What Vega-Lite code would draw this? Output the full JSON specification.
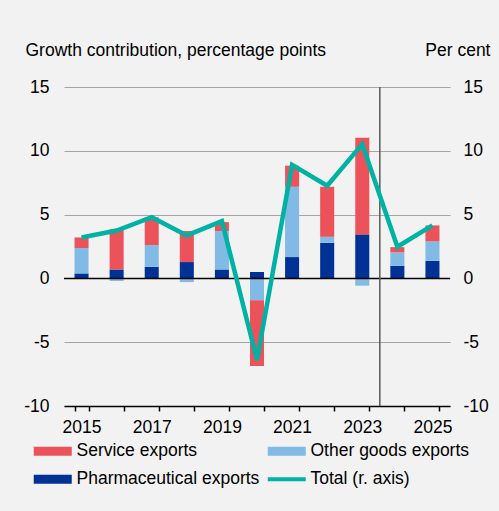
{
  "$schema": "https://vega.github.io/schema/vega-lite/v6.json",
  "autosize": "none",
  "width": 386,
  "height": 319,
  "padding": {"left": 64, "top": 87, "right": 49, "bottom": 105},
  "background": "#f2f2f2",
  "config": {
    "view": {"stroke": null},
    "font": "Liberation Sans",
    "axis": {"labelFont": "Liberation Sans", "titleFont": "Liberation Sans", "labelFontSize": 17.5, "titleFontSize": 17.5, "labelColor": "#000000", "titleColor": "#000000", "titleFontWeight": "normal"},
    "legend": {"labelFont": "Liberation Sans", "labelFontSize": 17.5, "labelColor": "#000000", "labelLimit": 400}
  },
  "datasets": {
    "bars": [
      {"year": "2015", "series": "Pharmaceutical exports", "ord": 1, "value": 0.39},
      {"year": "2015", "series": "Other goods exports", "ord": 2, "value": 1.99},
      {"year": "2015", "series": "Service exports", "ord": 3, "value": 0.83},
      {"year": "2016", "series": "Pharmaceutical exports", "ord": 1, "value": 0.70},
      {"year": "2016", "series": "Other goods exports", "ord": 2, "value": -0.21},
      {"year": "2016", "series": "Service exports", "ord": 3, "value": 3.16},
      {"year": "2017", "series": "Pharmaceutical exports", "ord": 1, "value": 0.91},
      {"year": "2017", "series": "Other goods exports", "ord": 2, "value": 1.70},
      {"year": "2017", "series": "Service exports", "ord": 3, "value": 2.17},
      {"year": "2018", "series": "Pharmaceutical exports", "ord": 1, "value": 1.28},
      {"year": "2018", "series": "Other goods exports", "ord": 2, "value": -0.29},
      {"year": "2018", "series": "Service exports", "ord": 3, "value": 2.43},
      {"year": "2019", "series": "Pharmaceutical exports", "ord": 1, "value": 0.70},
      {"year": "2019", "series": "Other goods exports", "ord": 2, "value": 3.01},
      {"year": "2019", "series": "Service exports", "ord": 3, "value": 0.70},
      {"year": "2020", "series": "Pharmaceutical exports", "ord": 1, "value": 0.50},
      {"year": "2020", "series": "Other goods exports", "ord": 2, "value": -1.72},
      {"year": "2020", "series": "Service exports", "ord": 3, "value": -5.15},
      {"year": "2021", "series": "Pharmaceutical exports", "ord": 1, "value": 1.67},
      {"year": "2021", "series": "Other goods exports", "ord": 2, "value": 5.51},
      {"year": "2021", "series": "Service exports", "ord": 3, "value": 1.65},
      {"year": "2022", "series": "Pharmaceutical exports", "ord": 1, "value": 2.79},
      {"year": "2022", "series": "Other goods exports", "ord": 2, "value": 0.47},
      {"year": "2022", "series": "Service exports", "ord": 3, "value": 3.92},
      {"year": "2023", "series": "Pharmaceutical exports", "ord": 1, "value": 3.45},
      {"year": "2023", "series": "Other goods exports", "ord": 2, "value": -0.57},
      {"year": "2023", "series": "Service exports", "ord": 3, "value": 7.57},
      {"year": "2024", "series": "Pharmaceutical exports", "ord": 1, "value": 0.99},
      {"year": "2024", "series": "Other goods exports", "ord": 2, "value": 1.05},
      {"year": "2024", "series": "Service exports", "ord": 3, "value": 0.41},
      {"year": "2025", "series": "Pharmaceutical exports", "ord": 1, "value": 1.38},
      {"year": "2025", "series": "Other goods exports", "ord": 2, "value": 1.52},
      {"year": "2025", "series": "Service exports", "ord": 3, "value": 1.25}
    ],
    "total": [
      {"year": "2015", "total": 3.2},
      {"year": "2016", "total": 3.75},
      {"year": "2017", "total": 4.8},
      {"year": "2018", "total": 3.37},
      {"year": "2019", "total": 4.49},
      {"year": "2020", "total": -6.4},
      {"year": "2021", "total": 8.9},
      {"year": "2022", "total": 7.26},
      {"year": "2023", "total": 10.52},
      {"year": "2024", "total": 2.48},
      {"year": "2025", "total": 4.15}
    ]
  },
  "layer": [
    {
      "layer": [
        {
          "data": {"name": "bars"},
          "mark": {"type": "bar"},
          "encoding": {
            "x": {
              "field": "year",
              "type": "ordinal",
              "scale": {"paddingInner": 0.6, "paddingOuter": 0.3},
              "axis": {
                "title": null,
                "labelAngle": 0,
                "tickBand": "extent",
                "domainColor": "#000000",
                "domainWidth": 1.5,
                "tickColor": "#000000",
                "tickWidth": 1.5,
                "tickSize": 5,
                "labelPadding": 7,
                "labelExpr": "toNumber(datum.value) % 2 == 1 ? datum.value : ''"
              }
            },
            "y": {
              "field": "value",
              "type": "quantitative",
              "stack": "zero",
              "scale": {"domain": [-10, 15], "nice": false, "zero": false},
              "axis": {
                "values": [-10, -5, 0, 5, 10, 15],
                "labelExpr": "toString(datum.value)",
                "domain": false,
                "ticks": false,
                "grid": true,
                "gridColor": "#a6a6a6",
                "gridWidth": 1.2,
                "labelPadding": 15,
                "title": "Growth contribution, percentage points",
                "titleAngle": 0,
                "titleAlign": "left",
                "titleBaseline": "alphabetic",
                "titleX": -39,
                "titleY": -32
              }
            },
            "color": {
              "field": "series",
              "type": "nominal",
              "scale": {
                "domain": ["Service exports", "Pharmaceutical exports", "Other goods exports", "Total (r. axis)"],
                "range": ["#ec525a", "#003296", "#82bae6", "#00b2a4"]
              },
              "legend": {
                "title": null,
                "orient": "none",
                "legendX": -20,
                "legendY": 355,
                "columns": 2,
                "columnPadding": 7,
                "rowPadding": 9.5,
                "padding": 0,
                "symbolSize": 256,
                "symbolType": "M-2.375,-0.5625H2.375V0.5625H-2.375Z",
                "labelOffset": 15,
                "encode": {
                  "symbols": {
                    "update": {
                      "shape": [
                        {"test": "datum.value === 'Total (r. axis)'", "value": "M-2.375,-0.25H2.375V0.25H-2.375Z"},
                        {"value": "M-2.375,-0.5625H2.375V0.5625H-2.375Z"}
                      ],
                      "fillOpacity": {"value": 1},
                      "strokeWidth": {"value": 0}
                    }
                  }
                }
              }
            },
            "order": {"field": "ord", "type": "quantitative"}
          }
        },
        {
          "data": {"values": [{"v": 0}]},
          "mark": {"type": "rule", "color": "#000000", "strokeWidth": 1.5},
          "encoding": {"y": {"datum": 0, "type": "quantitative"}}
        },
        {
          "data": {"values": [{"v": 0}]},
          "mark": {"type": "rule", "color": "#595959", "strokeWidth": 1.5},
          "encoding": {"x": {"datum": "2023", "type": "ordinal", "bandPosition": 1.75}}
        }
      ]
    },
    {
      "data": {"name": "total"},
      "mark": {"type": "line", "color": "#00b2a4", "strokeWidth": 4.5, "strokeJoin": "miter"},
      "encoding": {
        "x": {"field": "year", "type": "ordinal"},
        "y": {
          "field": "total",
          "type": "quantitative",
          "scale": {"domain": [-10, 15], "nice": false, "zero": false},
          "axis": {
            "orient": "right",
            "values": [-10, -5, 0, 5, 10, 15],
            "labelExpr": "toString(datum.value)",
            "domain": false,
            "ticks": false,
            "grid": false,
            "labelPadding": 13,
            "title": "Per cent",
            "titleAngle": 0,
            "titleAlign": "right",
            "titleBaseline": "alphabetic",
            "titleX": 40,
            "titleY": -32
          }
        }
      }
    }
  ],
  "resolve": {"scale": {"y": "independent"}}
}
